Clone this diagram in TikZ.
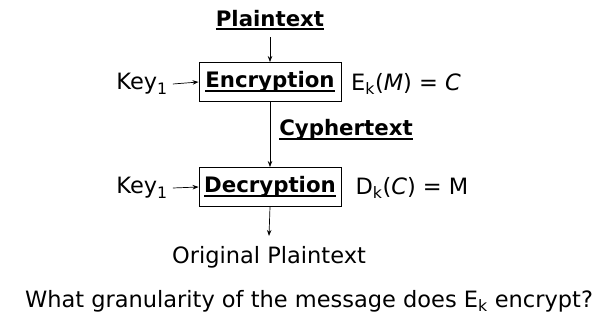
\documentclass[tikz,border=0pt]{standalone}
\usepackage{fontspec}
\setmainfont{DejaVu Sans}
\usetikzlibrary{arrows.meta, positioning}

% bold word with a heavy rule under it
\newcommand{\ulbf}[1]{\setbox0\hbox{\fontsize{21.3}{24}\selectfont\bfseries #1}\rlap{\rule[-4pt]{\wd0}{1.8pt}}\box0}

\begin{document}
\begin{tikzpicture}[x=1pt, y=-1pt,
    lbl/.style={font=\fontsize{22.5}{26}\selectfont, inner sep=1pt},
    stage/.style={lbl, draw, line width=0.9pt, minimum width=142pt, minimum height=39pt},
    flow/.style={-{Stealth[length=6pt, width=4.5pt]}, line width=0.7pt}]
  \useasboundingbox (0,0) rectangle (603,321);

  % encryption stage
  \node[lbl] (plain) at (270,20) {\ulbf{Plaintext}};
  \node[stage] (enc) at (270,82) {\ulbf{Encryption}};
  \node[lbl] (keya) at (142,84) {Key\textsubscript{1}};
  \node[lbl] (ekm) at (406,84) {E\textsubscript{k}(\textit{M}) = \textit{C}};
  \node[lbl] (cyph) at (346,130) {\ulbf{Cyphertext}};

  % decryption stage
  \node[stage] (dec) at (270,187) {\ulbf{Decryption}};
  \node[lbl] (keyb) at (142,188) {Key\textsubscript{1}};
  \node[lbl] (dkc) at (412,188) {D\textsubscript{k}(\textit{C}) = M};
  \node[lbl] (orig) at (269,257) {Original Plaintext};

  \node[lbl] (ask) at (309,301) {What granularity of the message does E\textsubscript{k} encrypt?};

  \draw[flow] ([yshift=-6pt]plain.south) -- (enc.north);
  \draw[flow] ([xshift=4pt]keya.east) -- (enc.west);
  \draw[flow] (enc.south) -- (dec.north);
  \draw[flow] ([xshift=4pt]keyb.east) -- (dec.west);
  \draw[flow] (dec.south) -- ([yshift=9pt]orig.north);
\end{tikzpicture}
\end{document}
